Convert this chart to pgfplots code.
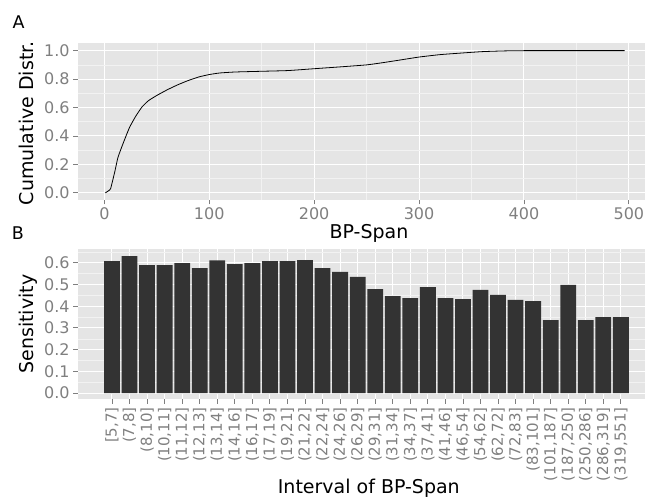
\documentclass[border=0pt]{standalone}
\usepackage{pgfplots}
\pgfplotsset{compat=1.18}
\usepackage{fontspec}
\setmainfont{DejaVu Sans}
\definecolor{panelbg}{HTML}{E5E5E5}
\definecolor{minorgrid}{HTML}{F2F2F2}
\definecolor{ticklab}{HTML}{7F7F7F}
\definecolor{barfill}{HTML}{333333}
\newcommand{\tickfont}{\fontsize{16bp}{19bp}\selectfont}
\newcommand{\rotfont}{\fontsize{15bp}{18bp}\selectfont}
\pgfplotsset{
  ggstyle/.style={
    scale only axis,
    axis background/.style={fill=panelbg},
    axis line style={draw=none},
    grid=both,
    major grid style={white, line width=1bp},
    minor grid style={minorgrid, line width=0.55bp},
    tick align=outside,
    xtick pos=bottom, ytick pos=left,
    major tick length=4.5bp,
    minor tick length=0pt,
    tick style={ticklab, line width=0.9bp},
    /pgf/number format/assume math mode=true,
    tick label style={ticklab},
  }
}
\begin{document}
\begin{tikzpicture}[x=1bp,y=1bp]
\useasboundingbox (0,0) rectangle (645,497);
\begin{axis}[ggstyle,
  at={(77.7bp,297bp)}, anchor=south west,
  width=582.3bp, height=157.3bp,
  xmin=-25.4, xmax=529.7, ymin=-0.05, ymax=1.056,
  xtick={0,100,200,300,400,500},
  minor xtick={50,150,250,350,450},
  ytick={0,0.2,0.4,0.6,0.8,1.0},
  minor ytick={0.1,0.3,0.5,0.7,0.9},
  yticklabel style={font=\tickfont, /pgf/number format/.cd, fixed, fixed zerofill, precision=1},
  xticklabel style={font=\tickfont, /pgf/number format/.cd, fixed, precision=0},
]
\addplot[black, line width=0.8bp, smooth, tension=0.3] coordinates {
(1,0) (5,0.02) (6,0.03) (10,0.15) (13,0.25) (18,0.35) (24,0.46) (30,0.54)
(36,0.605) (42,0.648) (50,0.685) (60,0.725) (70,0.76) (80,0.79) (90,0.815)
(100,0.832) (110,0.843) (125,0.85) (150,0.855) (175,0.86) (200,0.873)
(225,0.886) (250,0.9) (265,0.915) (280,0.932) (300,0.955) (320,0.972)
(340,0.983) (360,0.993) (380,0.998) (400,1.0) (496,1.0)
};
\end{axis}
\begin{axis}[ggstyle,
  at={(77.7bp,97.7bp)}, anchor=south west,
  width=582.3bp, height=150.3bp,
  xmin=-1.954, xmax=31.23, ymin=-0.029, ymax=0.664,
  xtick={0,1,...,29},
  minor xtick={},
  xticklabels={{[5,7]},{(7,8]},{(8,10]},{(10,11]},{(11,12]},{(12,13]},{(13,14]},{(14,16]},{(16,17]},{(17,19]},{(19,21]},{(21,22]},{(22,24]},{(24,26]},{(26,29]},{(29,31]},{(31,34]},{(34,37]},{(37,41]},{(41,46]},{(46,54]},{(54,62]},{(62,72]},{(72,83]},{(83,101]},{(101,187]},{(187,250]},{(250,286]},{(286,319]},{(319,551]}},
  xticklabel style={font=\rotfont, rotate=90, anchor=east},
  ytick={0,0.1,0.2,0.3,0.4,0.5,0.6},
  minor ytick={0.05,0.15,0.25,0.35,0.45,0.55,0.65},
  yticklabel style={font=\tickfont, /pgf/number format/.cd, fixed, fixed zerofill, precision=1},
]
\addplot[ybar, bar width=0.9, fill=barfill, draw=none] coordinates {
(0,0.608) (1,0.631) (2,0.590) (3,0.590) (4,0.599) (5,0.576) (6,0.612) (7,0.594)
(8,0.599) (9,0.608) (10,0.608) (11,0.613) (12,0.576) (13,0.558) (14,0.535)
(15,0.479) (16,0.447) (17,0.438) (18,0.488) (19,0.438) (20,0.433) (21,0.475)
(22,0.452) (23,0.429) (24,0.424) (25,0.336) (26,0.498) (27,0.336) (28,0.350)
(29,0.350)
};
\end{axis}
\begin{scope}[every node/.style={inner sep=0pt, font=\fontsize{19bp}{22bp}\selectfont}]
\node[rotate=90, anchor=base] at (33,373.7) {Cumulative Distr.};
\node[rotate=90, anchor=base] at (33,173) {Sensitivity};
\node[anchor=base] at (369,258.7) {BP-Span};
\node[anchor=base] at (368.8,3.7) {Interval of BP-Span};
\node[anchor=base west, font=\fontsize{17.5bp}{20bp}\selectfont] at (12.5,468) {A};
\node[anchor=base west, font=\fontsize{17.5bp}{20bp}\selectfont] at (11.6,257) {B};
\end{scope}
\end{tikzpicture}
\end{document}
